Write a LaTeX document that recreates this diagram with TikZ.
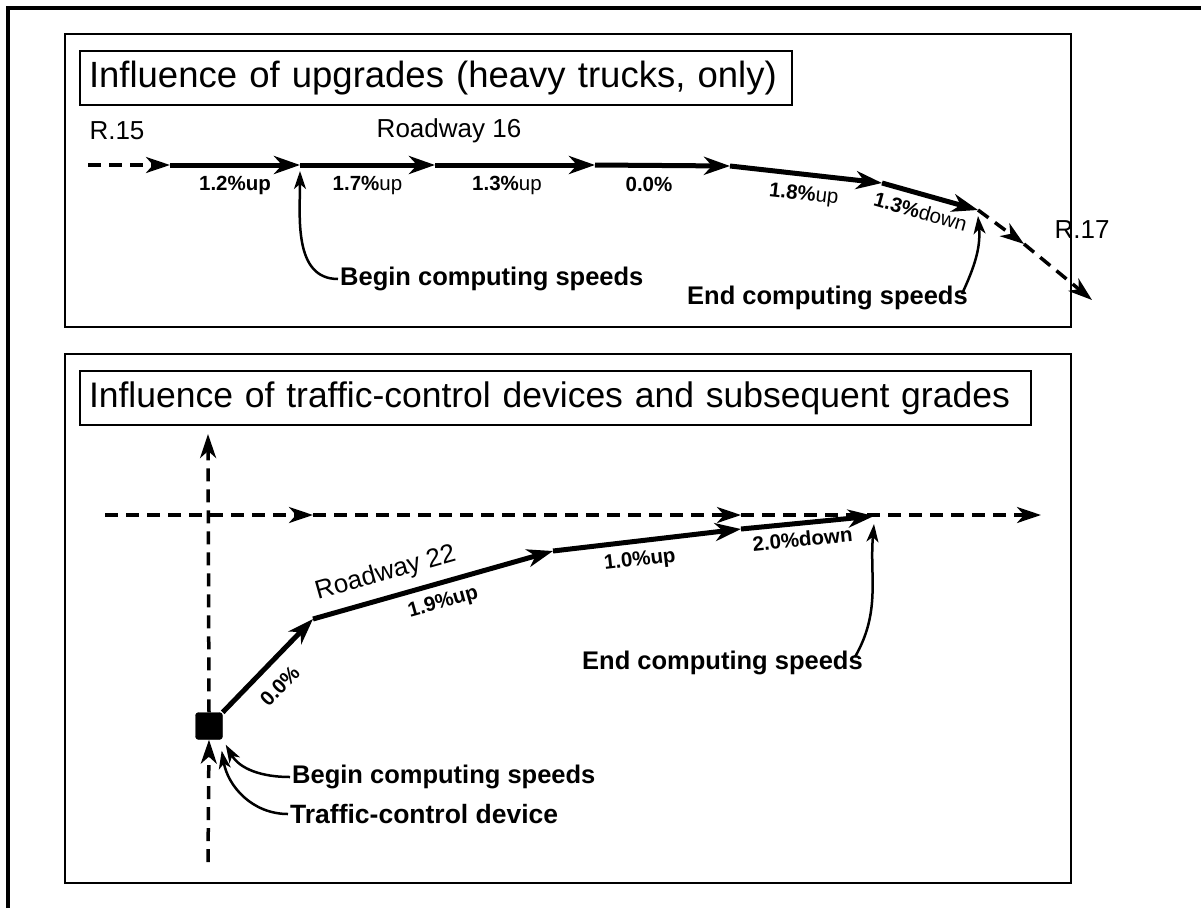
\documentclass[tikz,border=0pt]{standalone}
\usepackage{fontspec}
\setmainfont{Liberation Sans}
\usetikzlibrary{arrows.meta,positioning}

\begin{document}
\begin{tikzpicture}[
    x=1pt, y=-1pt,
    panel/.style={draw, line width=2.5pt},
    titlebox/.style={draw, line width=2pt, anchor=north west, inner xsep=9pt, minimum height=54pt, align=left, font=\fontsize{36.5}{40}\selectfont},
    road/.style={draw, line width=5pt, -{Stealth[length=26pt,width=18pt,inset=8pt]}},
    link/.style={draw, line width=3.5pt, dash pattern=on 13pt off 8pt, -{Stealth[length=24pt,width=16pt,inset=7pt]}},
    callout/.style={draw, line width=2.5pt, -{Stealth[length=18pt,width=12pt,inset=5pt]}},
    grade/.style={font=\bfseries\fontsize{20.5}{22}\selectfont, inner sep=2pt},
    tag/.style={font=\fontsize{26}{28}\selectfont},
    note/.style={font=\bfseries\fontsize{25.5}{28}\selectfont, anchor=west, inner sep=2pt}
]
    \useasboundingbox (0,0) rectangle (1201,908);

    % Frames
    \draw[line width=3.5pt] (8,908) -- (8,8) -- (1201,8);
    \draw[panel] (65,34) rectangle (1071,327);
    \draw[panel] (65,354) rectangle (1071,883);

    % Upper panel
    \node[titlebox, text width=694pt] (title1) at (79,50) {Influence of upgrades (heavy trucks, only)};

    \coordinate (u0) at (88,165);
    \coordinate (u1) at (170,165);
    \coordinate (u2) at (300,165);
    \coordinate (u3) at (435,165);
    \coordinate (u4) at (595,165);
    \coordinate (u5) at (730,166);
    \coordinate (u6) at (882,183);
    \coordinate (u7) at (978,210);
    \coordinate (u8) at (1024,244);
    \coordinate (u9) at (1092,300);

    \node[tag] (r15) at (117,131) {R.15};
    \node[tag] (rw16) at (449,131) {Roadway 16};
    \node[tag] (r17) at (1082,230) {R.17};

    \path[link] (u0) -- (u1);
    \path[road] (u1) -- node[grade, below=7pt] {1.2\%up} (u2);
    \path[road] (u2) -- node[grade, below=7pt] {1.7\%\mdseries up} (u3);
    \path[road] (u3) -- node[grade, below=7pt, pos=0.45] {1.3\%\mdseries up} (u4);
    \path[road] (u4) -- node[grade, below=7pt, pos=0.4] {0.0\%} (u5);
    \path[road] (u5) -- node[grade, sloped, below=7pt] {1.8\%\mdseries up} (u6);
    \path[road] (u6) -- node[grade, sloped, below=5pt, pos=0.45] {1.3\%\mdseries down} (u7);
    \path[link] (u7) -- (u8);
    \path[link] (u8) -- (u9);

    \node[note] (begin1) at (338,279) {Begin computing speeds};
    \node[note] (end1) at (685,298) {End computing speeds};
    \path[callout] (begin1.west) to[out=180,in=-90] ([yshift=-6pt]u2);
    \path[callout] ([xshift=-8pt,yshift=4pt]end1.east) to[out=65,in=-85] ([yshift=-6pt]u7);

    % Lower panel
    \node[titlebox, text width=933pt, font=\fontsize{35.5}{40}\selectfont] (title2) at (79,370) {Influence of traffic-control devices and subsequent grades};

    \node[draw, fill, rounded corners=3pt, minimum size=27pt, inner sep=0pt] (dev) at (209,726) {};
    \coordinate (v0) at (208,862);
    \coordinate (v1) at (208,434);
    \path[link] (v0) -- (dev.south);
    \path[link] (dev.north) -- (v1);

    \coordinate (h0) at (105,515);
    \coordinate (h1) at (313,515);
    \coordinate (h2) at (741,515);
    \coordinate (h3) at (1041,515);
    \path[link] (h0) -- (h1);
    \path[link] (h1) -- (h2);
    \path[link] (h2) -- (h3);

    \coordinate (w1) at (313,619);
    \coordinate (w2) at (553,551);
    \coordinate (w3) at (741,529);
    \coordinate (w4) at (874,516);
    \path[road] (dev.north east) -- node[grade, sloped, below=11pt, pos=0.45] {0.0\%} (w1);
    \path[road] (w1) -- node[tag, sloped, above=6pt, pos=0.33] {Roadway 22}
        node[grade, sloped, below=6pt, pos=0.52] {1.9\%up} (w2);
    \path[road] (w2) -- node[grade, sloped, below=6pt, pos=0.45] {1.0\%up} (w3);
    \path[road] (w3) -- node[grade, sloped, below=4pt, pos=0.45] {2.0\%down} (w4);

    \node[note] (end2) at (580,663) {End computing speeds};
    \path[callout] ([xshift=-10pt,yshift=6pt]end2.east) to[out=60,in=-95] ([yshift=-8pt]w4);

    \node[note] (begin2) at (290,777) {Begin computing speeds};
    \node[note, font=\bfseries\fontsize{26.5}{30}\selectfont] (device) at (288,814) {Traffic-control device};
    \path[callout] (begin2.west) to[out=180,in=-60] ([xshift=3pt,yshift=-5pt]dev.south east);
    \path[callout] (device.west) to[out=180,in=-80] ([xshift=-1pt,yshift=-11pt]dev.south east);

\end{tikzpicture}
\end{document}
